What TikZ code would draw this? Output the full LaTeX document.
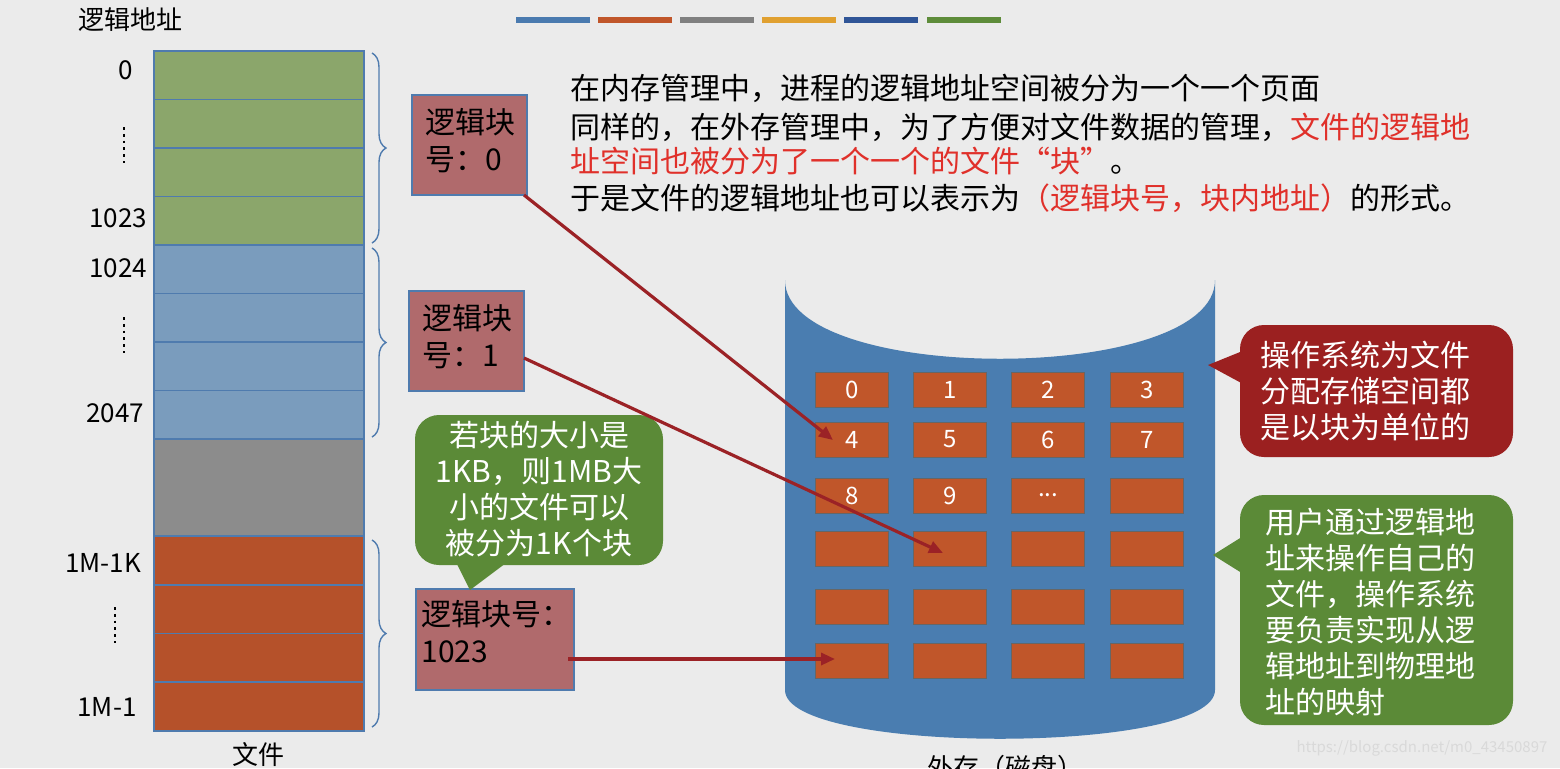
\documentclass[tikz,border=0pt]{standalone}
\usepackage{fontspec}
\setmainfont{Noto Sans CJK SC}
\usetikzlibrary{decorations.pathreplacing,arrows.meta}
\definecolor{bg}{HTML}{EBEBEB}
\definecolor{gfill}{HTML}{8BA66B}
\definecolor{bfill}{HTML}{7A9CBD}
\definecolor{grfill}{HTML}{8C8C8C}
\definecolor{ofill}{HTML}{B5512A}
\definecolor{edge}{HTML}{4F7BAE}
\definecolor{rose}{HTML}{B06A6C}
\definecolor{cgreen}{HTML}{5B8A37}
\definecolor{cred}{HTML}{9B2020}
\definecolor{cyl}{HTML}{4A7DB0}
\definecolor{cell}{HTML}{C0562A}
\definecolor{arr}{HTML}{9B2226}
\definecolor{txtred}{HTML}{E0302A}
\tikzset{
 row/.style={draw=edge,line width=0.8pt},
 blk/.style={draw=edge,fill=rose,line width=0.8pt},
 cellbox/.style={draw=black!60,fill=cell,line width=0.5pt,minimum width=36.5pt,minimum height=17.5pt,inner sep=0pt,text=white,font=\fontsize{12}{14}\selectfont},
 lab/.style={font=\fontsize{13}{15}\selectfont},
 ctext/.style={font=\fontsize{15}{18}\selectfont,text=white,align=center},
 para/.style={font=\fontsize{15}{18.5}\selectfont,anchor=west,inner sep=0pt},
 link/.style={draw=arr,line width=1.6pt,-{Triangle[length=7pt,width=6pt]}},
 brace/.style={draw=edge,line width=0.7pt,decorate,decoration={brace,amplitude=7pt}}
}
\begin{document}
\begin{tikzpicture}[x=0.5pt,y=-0.5pt]
\useasboundingbox (0,0) rectangle (1560,768);
\clip (0,0) rectangle (1560,768);
\fill[bg] (0,0) rectangle (1560,768);
% top bars
\foreach \a/\c in {516/4A7AAF,598/C0562A,680/808080,762/E0A030,844/2F5597,927/5E8C3A}{
 \definecolor{tmp}{HTML}{\c}\fill[tmp] (\a,17) rectangle ++(74,6);}
% file column
\foreach \i in {0,...,3}{\draw[row,fill=gfill] (154,51+48.5*\i) rectangle ++(210,48.5);}
\foreach \i in {0,...,3}{\draw[row,fill=bfill] (154,245+48.5*\i) rectangle ++(210,48.5);}
\draw[row,fill=grfill] (154,439) rectangle (364,536);
\foreach \i in {0,...,3}{\draw[row,fill=ofill] (154,536+48.75*\i) rectangle ++(210,48.75);}
\node[lab] (t0) at (130,20) {逻辑地址};
\node[lab] (l0) at (126,70) {0};
\node[lab] (l1) at (118,218) {1023};
\node[lab] (l2) at (118,268) {1024};
\node[lab] (l3) at (115,413) {2047};
\node[lab] (l4) at (103,563) {1M-1K};
\node[lab] (l5) at (107,707) {1M-1};
\foreach \x/\y in {124/145,124/335,115/625}{\draw[line width=1.4pt,dotted] (\x,\y-18)--(\x,\y+18);}
\node[lab] (fl) at (258,755) {文件};
% braces
\draw[brace] (372,53)--(372,243);
\draw[brace] (372,248)--(372,437);
\draw[brace] (372,540)--(372,727);
% logical block boxes
\draw[blk] (412,95) rectangle (527,195);
\node[para] (b0) at (425,145) {\begin{tabular}{@{}l@{}}逻辑块\\号：0\end{tabular}};
\draw[blk] (409,291) rectangle (524,391);
\node[para] (b1) at (422,341) {\begin{tabular}{@{}l@{}}逻辑块\\号：1\end{tabular}};
\draw[blk] (416,589) rectangle (574,690);
\node[para] (b2) at (421,637) {\begin{tabular}{@{}l@{}}逻辑块号：\\1023\end{tabular}};
% green callout
\fill[cgreen,rounded corners=12pt] (415,415) rectangle (663,565);
\fill[cgreen] (455,560)--(470,590)--(510,560)--cycle;
\node[ctext] (gc) at (539,489) {若块的大小是\\1KB，则1MB大\\小的文件可以\\被分为1K个块};
% cylinder
\fill[cyl] (785,280) .. controls (785,385) and (1215,385) .. (1215,280) -- (1215,690)
 .. controls (1215,755) and (785,755) .. (785,690) -- cycle;
\foreach \r/\y in {0/389.5,1/439.5,2/495.5,3/548.5,4/606.5,5/660.5}{
 \foreach \c/\x in {0/852,1/950,2/1048,3/1147}{
  \node[cellbox] (c\r\c) at (\x,\y) {};}}
\foreach \n/\t in {c00/0,c01/1,c02/2,c03/3,c10/4,c11/5,c12/6,c13/7,c20/8,c21/9}{
 \node[text=white,font=\fontsize{12}{14}\selectfont] at (\n) {\t};}
\node[text=white,font=\fontsize{12}{14}\selectfont] at (c22) {...};
\node[lab] (disk) at (1005,768) {外存（磁盘）};
% red callout
\fill[cred,rounded corners=12pt] (1240,325) rectangle (1513,457);
\fill[cred] (1245,350)--(1208,365)--(1245,385)--cycle;
\node[ctext,align=left] (rc) at (1365,391) {操作系统为文件\\分配存储空间都\\是以块为单位的};
% green callout right
\fill[cgreen,rounded corners=12pt] (1240,495) rectangle (1513,725);
\fill[cgreen] (1245,535)--(1213,555)--(1245,575)--cycle;
\node[ctext,align=left] (gc2) at (1370,612) {用户通过逻辑地\\址来操作自己的\\文件，操作系统\\要负责实现从逻\\辑地址到物理地\\址的映射};
% arrows
\coordinate (a0s) at (524,195);
\coordinate (a0e) at (833,440);
\draw[link] (a0s)--(a0e);
\coordinate (a1s) at (524,358);
\coordinate (a1e) at (943,553);
\draw[link] (a1s)--(a1e);
\coordinate (a2s) at (568,659);
\coordinate (a2e) at (835,659);
\draw[link] (a2s)--(a2e);
% paragraph
\node[para] (p1) at (570,88) {在内存管理中，进程的逻辑地址空间被分为一个一个页面};
\node[para] (p2) at (570,127) {同样的，在外存管理中，为了方便对文件数据的管理，\textcolor{txtred}{文件的逻辑地}};
\node[para] (p3) at (570,161) {\textcolor{txtred}{址空间也被分为了一个一个的文件“块”}。};
\node[para] (p4) at (570,198) {于是文件的逻辑地址也可以表示为\textcolor{txtred}{（逻辑块号，块内地址）}的形式。};
\node[font=\fontsize{7.5}{9}\selectfont,text=white!70!gray] (wm) at (1422,748) {https://blog.csdn.net/m0\_43450897};
\end{tikzpicture}
\end{document}
